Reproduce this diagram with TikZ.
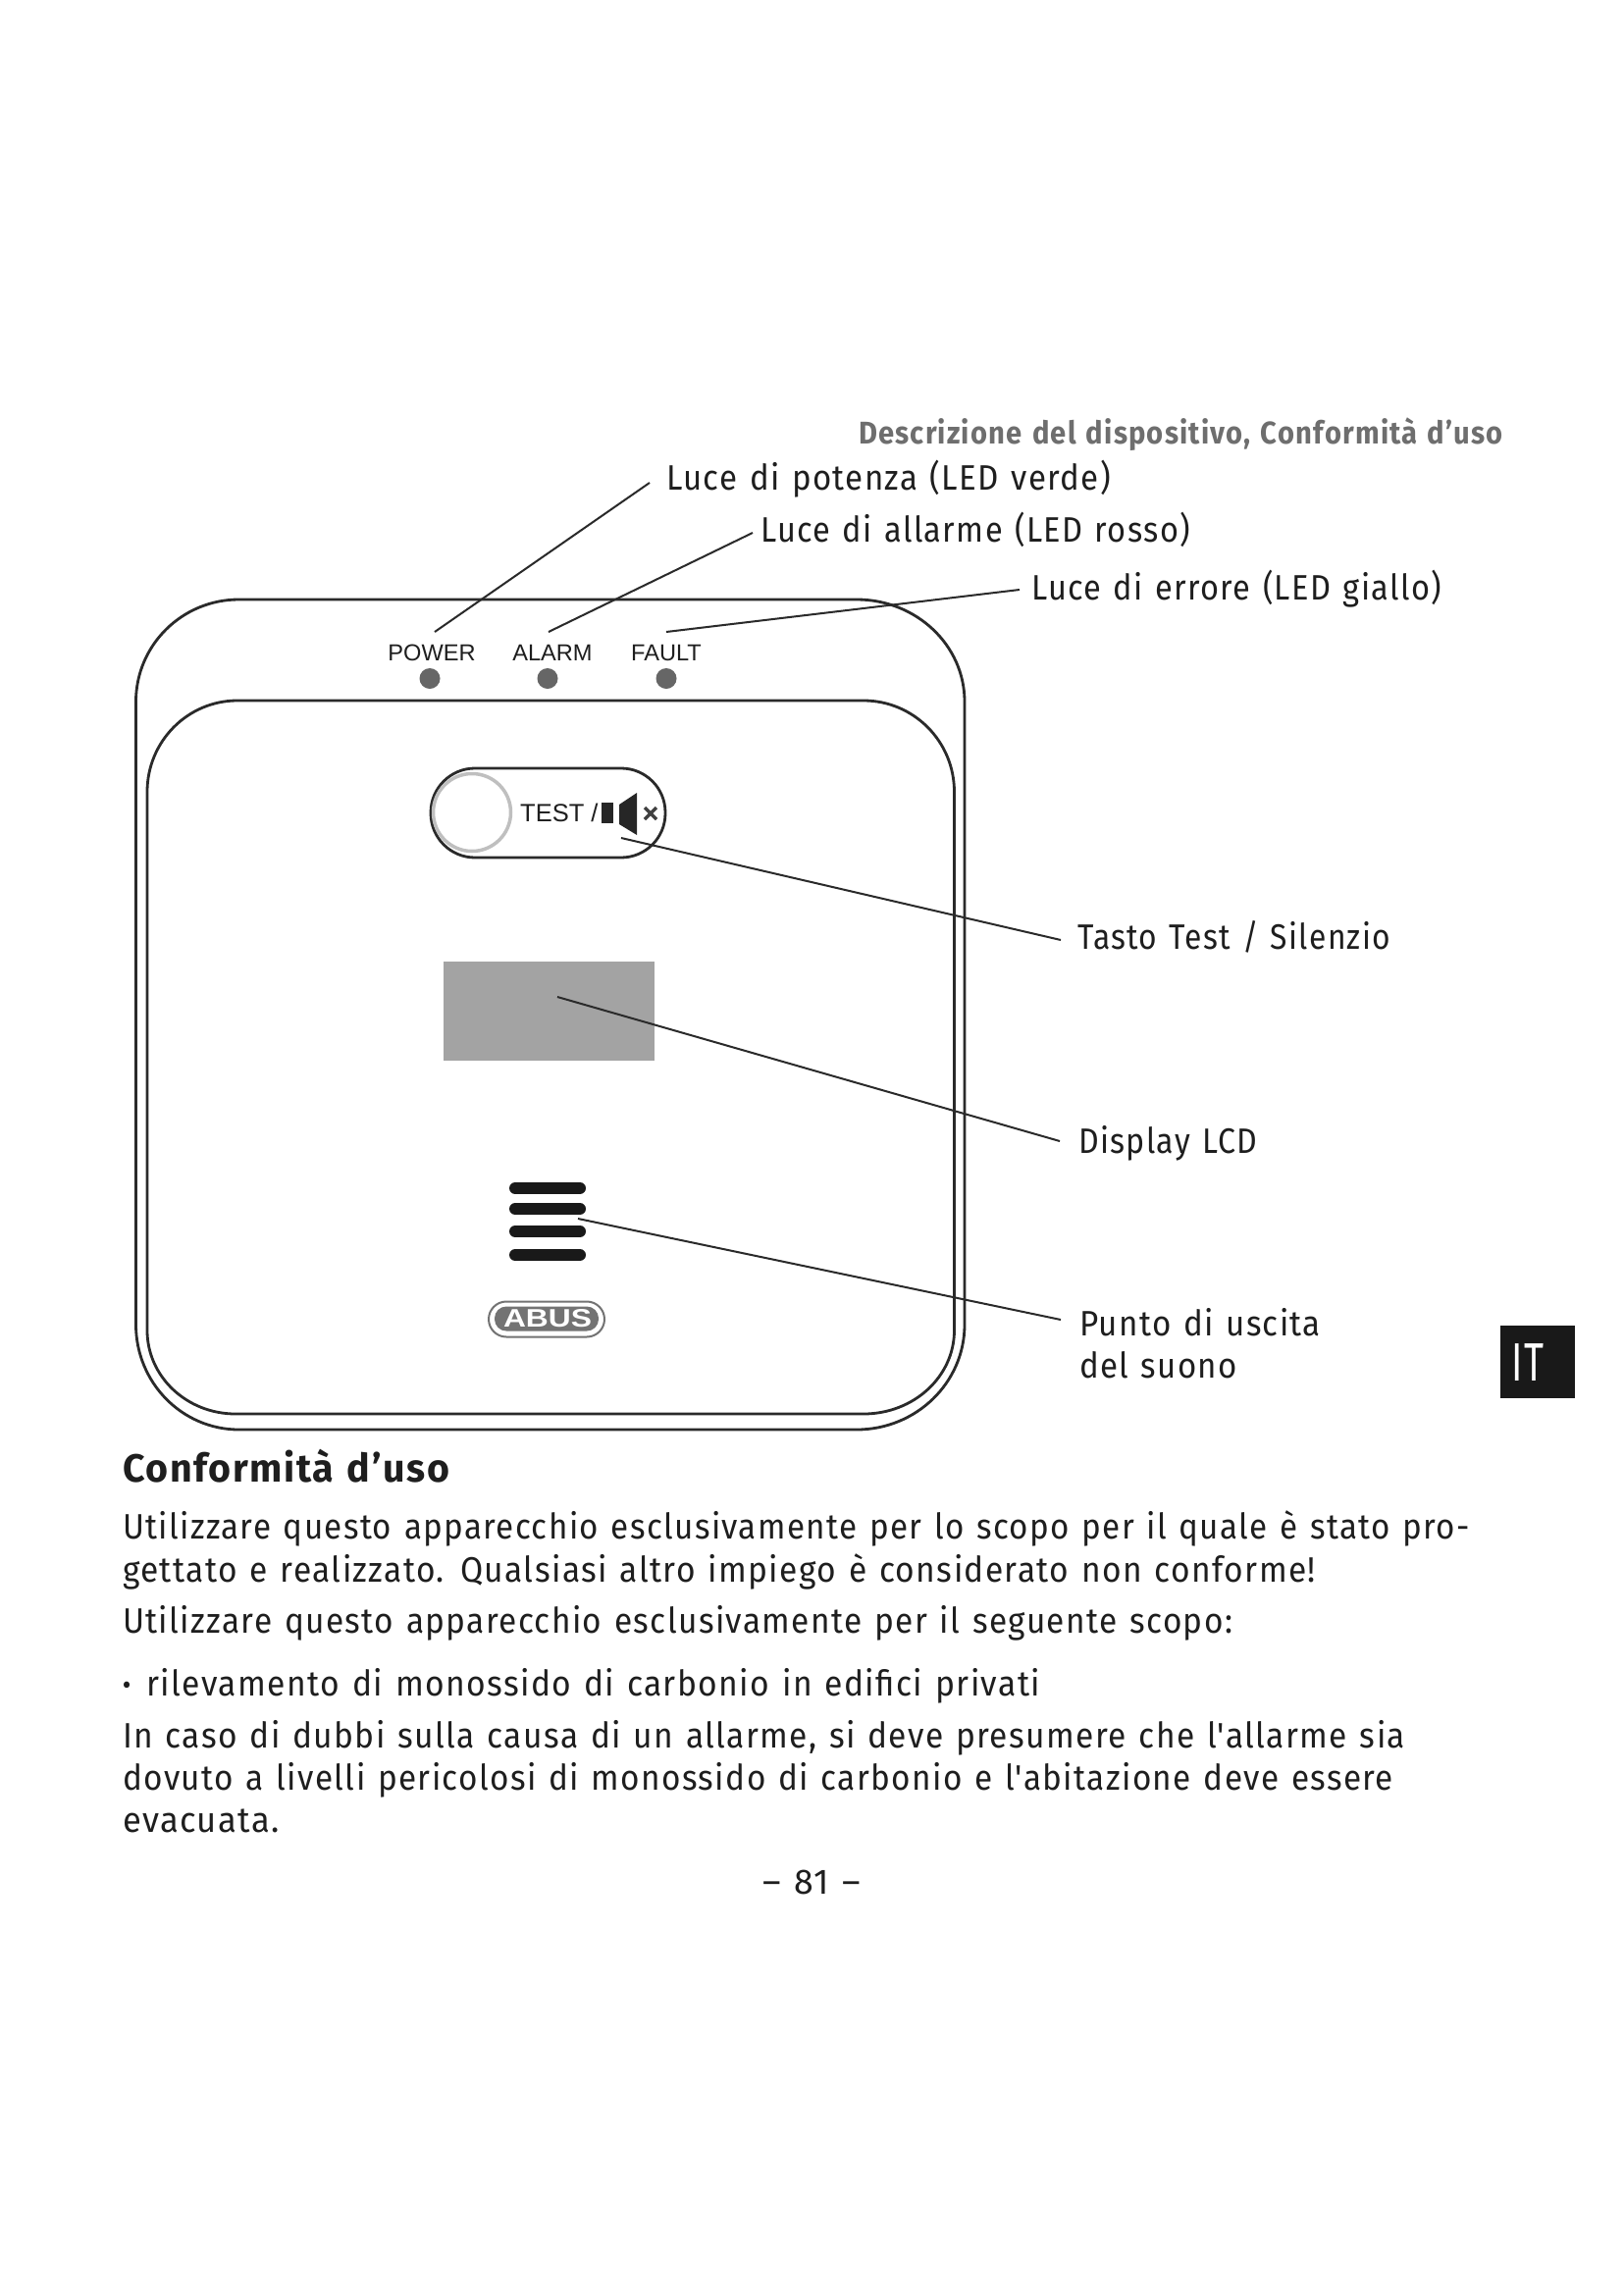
\documentclass[tikz,border=0pt]{standalone}
\usepackage{fontspec}
\usepackage{graphicx}
\setmainfont[Ligatures=TeXOff,FakeStretch=0.84,LetterSpace=3.5,WordSpace=1.25]{Fira Sans}
\newfontfamily\arialf{Liberation Sans}
\definecolor{lineblack}{HTML}{2A2A2A}
\definecolor{textblack}{HTML}{1E1E1E}
\definecolor{headgrey}{HTML}{6E6E6E}
\definecolor{ledgrey}{HTML}{666666}
\definecolor{lcdgrey}{HTML}{A3A3A3}
\tikzset{
 x=1pt,y=-1pt,
 txt/.style={anchor=base west,inner sep=0pt,outer sep=0pt,text=textblack,font=\fontsize{36}{36}\selectfont},
 ledlabel/.style={anchor=base,inner sep=0pt,text=textblack,font=\arialf\fontsize{23.6}{23.6}\selectfont},
 body/.style={draw=lineblack,line width=2.8pt},
 leader/.style={draw=lineblack,line width=2pt},
 led/.style={circle,fill=ledgrey,inner sep=0pt,minimum size=21pt},
 bar/.style={draw=black!90,line width=12pt,line cap=round},
}
\newcommand{\fitw}[2]{\resizebox{#1pt}{\height}{#2}}
\begin{document}
\begin{tikzpicture}
\useasboundingbox (0,0) rectangle (1654,2339);
\fill[white] (0,0) rectangle (1654,2339);
% housing
\draw[body] (138.5,715) .. controls (138.5,657.6) and (185.5,611) .. (243.5,611) -- (873,611)
 .. controls (933.8,611) and (983,657.6) .. (983,715) -- (983,1350)
 .. controls (983,1409.1) and (933.8,1457) .. (873,1457) -- (243.5,1457)
 .. controls (185.5,1457) and (138.5,1409.1) .. (138.5,1350) -- cycle;
\draw[body] (150,807) .. controls (150,755.6) and (191.2,714) .. (242,714) -- (880,714)
 .. controls (931.1,714) and (972.5,755.6) .. (972.5,807) -- (972.5,1356)
 .. controls (972.5,1403) and (931.1,1441) .. (880,1441) -- (240,1441)
 .. controls (190.3,1441) and (150,1403) .. (150,1356) -- cycle;
% LEDs
\node[ledlabel] (lpower) at (440,673) {POWER};
\node[ledlabel] (lalarm) at (563,673) {ALARM};
\node[ledlabel] (lfault) at (679,673) {FAULT};
\node[led] (dpower) at (438,691.5) {};
\node[led] (dalarm) at (558,691.5) {};
\node[led] (dfault) at (679,691.5) {};
% test button
\node[draw=lineblack,line width=2.8pt,rounded corners=45pt,minimum width=239pt,minimum height=91pt,inner sep=0pt] (pill) at (558.5,828.5) {};
\node[circle,draw=black!25,line width=3.5pt,minimum size=79pt,inner sep=0pt] (btn) at (481,828) {};
\node[anchor=base west,inner sep=0pt,text=textblack,font=\arialf\fontsize{25.5}{25.5}\selectfont] (testlabel) at (530,837) {TEST /};
\fill[black!85] (613,818) rectangle (625,839);
\fill[black!85] (631,820) -- (649,808) -- (649,851) -- (631,840) -- cycle;
\draw[black!75,line width=3.4pt] (657,823) -- (669,835) (669,823) -- (657,835);
% LCD
\node[fill=lcdgrey,minimum width=215pt,minimum height=101pt,inner sep=0pt] (lcd) at (559.5,1030.5) {};
% speaker
\draw[bar] (525,1211) -- (591,1211);
\draw[bar] (525,1232) -- (591,1232);
\draw[bar] (525,1255) -- (591,1255);
\draw[bar] (525,1279) -- (591,1279);
% logo
\node[draw=black!55,line width=2pt,rounded corners=18pt,minimum width=118pt,minimum height=36pt,inner sep=0pt] (logoout) at (557,1344.5) {};
\node[fill=black!55,rounded corners=12pt,minimum width=106pt,minimum height=25pt,inner sep=0pt] (logoin) at (557,1344) {};
\node[inner sep=0pt,text=white,font=\arialf\bfseries\fontsize{24}{24}\selectfont] (logotxt) at (558,1344) {\resizebox{90pt}{18pt}{ABUS}};
% coordinates
\coordinate (a1) at (662,492); \coordinate (a2) at (443,644);
\coordinate (b1) at (767,543); \coordinate (b2) at (559,644);
\coordinate (c1) at (1039,601); \coordinate (c2) at (679,644);
\coordinate (d1) at (1081,958); \coordinate (d2) at (633,854);
\coordinate (e1) at (1080,1163); \coordinate (e2) at (568,1016);
\coordinate (f1) at (1081,1345); \coordinate (f2) at (589,1242);
\draw[leader] (a1) -- (a2);
\draw[leader] (b1) -- (b2);
\draw[leader] (c1) -- (c2);
\draw[leader] (d1) -- (d2);
\draw[leader] (e1) -- (e2);
\draw[leader] (f1) -- (f2);
% side tab
\node[fill=black!90,minimum width=76pt,minimum height=74pt,inner sep=0pt] (tab) at (1567,1388) {};
\node[anchor=base west,inner sep=0pt,text=white,font=\fontsize{55}{55}\selectfont] (tabtxt) at (1540,1407) {\resizebox{33pt}{\height}{IT}};
% texts
\node[txt,text=headgrey,font=\bfseries\fontsize{32}{32}\selectfont] (head) at (875,452) {\fitw{657}{Descrizione del dispositivo, Conformità d’uso}};
\node[txt] (t1) at (679,499) {\fitw{453}{Luce di potenza (LED verde)}};
\node[txt] (t2) at (775,552) {\fitw{438}{Luce di allarme (LED rosso)}};
\node[txt] (t3) at (1051,611) {\fitw{418}{Luce di errore (LED giallo)}};
\node[txt] (t4) at (1098,967) {\fitw{319}{Tasto Test / Silenzio}};
\node[txt] (t5) at (1099,1175) {\fitw{182}{Display LCD}};
\node[txt] (t6) at (1100,1361) {\fitw{246}{Punto di uscita}};
\node[txt] (t7) at (1100,1404) {\fitw{161}{del suono}};
\node[txt,font=\bfseries\fontsize{40}{40}\selectfont] (h2) at (125,1510.5) {\fitw{333}{Conformità d’uso}};
\node[txt] (b01) at (125,1568) {\fitw{1373}{Utilizzare questo apparecchio esclusivamente per lo scopo per il quale è stato pro-}};
\node[txt] (b02) at (125,1612) {\fitw{1216}{gettato e realizzato. Qualsiasi altro impiego è considerato non conforme!}};
\node[txt] (b03) at (125,1664) {\fitw{1131}{Utilizzare questo apparecchio esclusivamente per il seguente scopo:}};
\node[txt] (b04) at (125,1728) {\fitw{935}{\textbf{·}\hspace{2pt} rilevamento di monossido di carbonio in edifici privati}};
\node[txt] (b05) at (125,1781) {\fitw{1307}{In caso di dubbi sulla causa di un allarme, si deve presumere che l'allarme sia}};
\node[txt] (b06) at (125,1824) {\fitw{1295}{dovuto a livelli pericolosi di monossido di carbonio e l'abitazione deve essere}};
\node[txt] (b07) at (125,1867) {\fitw{160}{evacuata.}};
\node[txt] (pg) at (777,1930) {\fitw{100}{– 81 –}};
\end{tikzpicture}
\end{document}
